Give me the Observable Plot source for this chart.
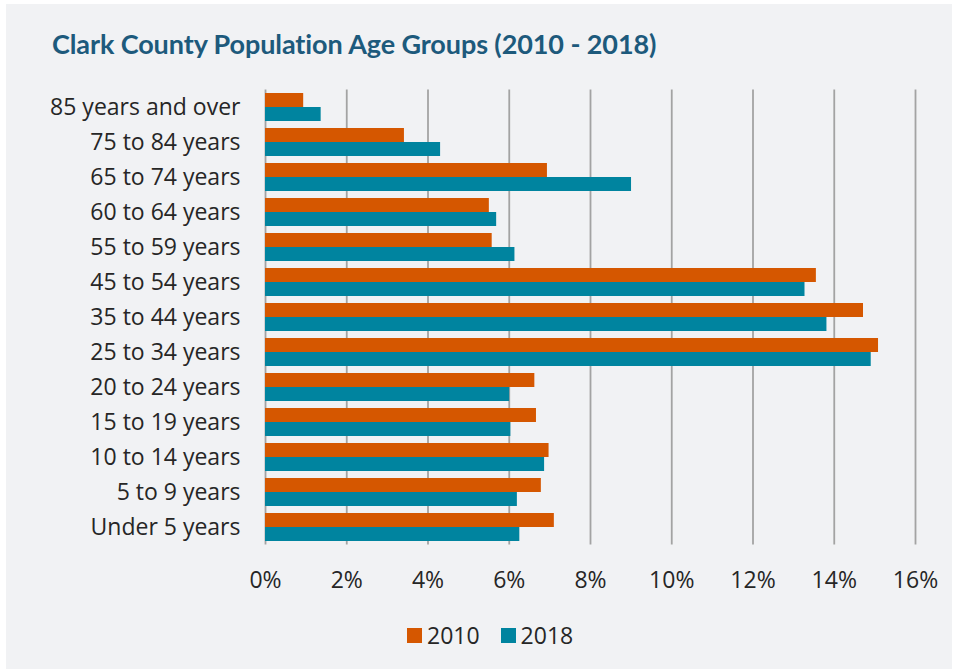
<!DOCTYPE html>
<html>
<head>
<meta charset="utf-8">
<script src="https://cdn.jsdelivr.net/npm/d3@7"></script>
<script src="https://cdn.jsdelivr.net/npm/@observablehq/plot@0.6"></script>
<style>
  html, body { margin: 0; padding: 0; background: #ffffff; }
  #card { position: absolute; left: 6px; top: 4px; width: 946px; height: 665px; background: #f1f2f4; }
  #wrap { position: absolute; left: 0; top: 0; width: 953px; height: 670px; }
  #title { position: absolute; left: 52px; top: 30px; font-family: Lato, sans-serif; font-weight: 700; font-size: 27px; line-height: 27px; color: #1d5a7c; white-space: nowrap; letter-spacing: -0.1px; }
  #chart { position: absolute; left: 0; top: 0; }
  #legend { position: absolute; left: 407px; top: 620px; height: 30px; display: flex; align-items: center; font-family: "Open Sans", sans-serif; font-size: 23px; color: #262626; }
  .sw { width: 15px; height: 15px; display: inline-block; margin-right: 5px; }
  .item { display: flex; align-items: center; margin-right: 21px; }
</style>
</head>
<body>
<div id="card"></div>
<div id="wrap">
  <div id="title">Clark County Population Age Groups (2010 - 2018)</div>
  <div id="chart"></div>
  <div id="legend"></div>
</div>
<script>
const ages = ["85 years and over", "75 to 84 years", "65 to 74 years", "60 to 64 years", "55 to 59 years",
  "45 to 54 years", "35 to 44 years", "25 to 34 years", "20 to 24 years", "15 to 19 years",
  "10 to 14 years", "5 to 9 years", "Under 5 years"];
const v2010 = [0.94, 3.42, 6.94, 5.51, 5.58, 13.56, 14.72, 15.09, 6.63, 6.67, 6.98, 6.79, 7.11];
const v2018 = [1.37, 4.31, 9.01, 5.69, 6.14, 13.28, 13.82, 14.91, 6.01, 6.04, 6.87, 6.20, 6.26];
const seriesNames = ["2010", "2018"];
const seriesColors = ["#d55700", "#00849f"];
const tickValues = [0, 2, 4, 6, 8, 10, 12, 14, 16];

const rows2010 = ages.map((a, i) => ({age: a, value: v2010[i]}));
const rows2018 = ages.map((a, i) => ({age: a, value: v2018[i]}));

const chart = Plot.plot({
  width: 953,
  height: 600,
  marginLeft: 265,
  marginRight: 38,
  marginTop: 89.5,
  marginBottom: 55.5,
  style: {fontFamily: "'Open Sans', sans-serif", fontSize: "23px", color: "#262626", background: "transparent"},
  x: {domain: [0, 16], ticks: tickValues, tickFormat: d => d + "%", tickSize: 0, tickPadding: 26.5, label: null},
  y: {domain: ages, paddingInner: 0.2, paddingOuter: 0.1, tickSize: 0, tickPadding: 25, label: null},
  marks: [
    Plot.ruleX(tickValues, {stroke: "#a3a3a3", strokeWidth: 1.8}),
    Plot.barX(rows2010, {y: "age", x: "value", fill: seriesColors[0], insetBottom: 14}),
    Plot.barX(rows2018, {y: "age", x: "value", fill: seriesColors[1], insetTop: 14})
  ]
});
document.getElementById("chart").appendChild(chart);

const legend = document.getElementById("legend");
seriesNames.forEach((name, i) => {
  const item = document.createElement("span");
  item.className = "item";
  const sw = document.createElement("span");
  sw.className = "sw";
  sw.style.background = seriesColors[i];
  item.appendChild(sw);
  item.appendChild(document.createTextNode(name));
  legend.appendChild(item);
});
</script>
</body>
</html>
